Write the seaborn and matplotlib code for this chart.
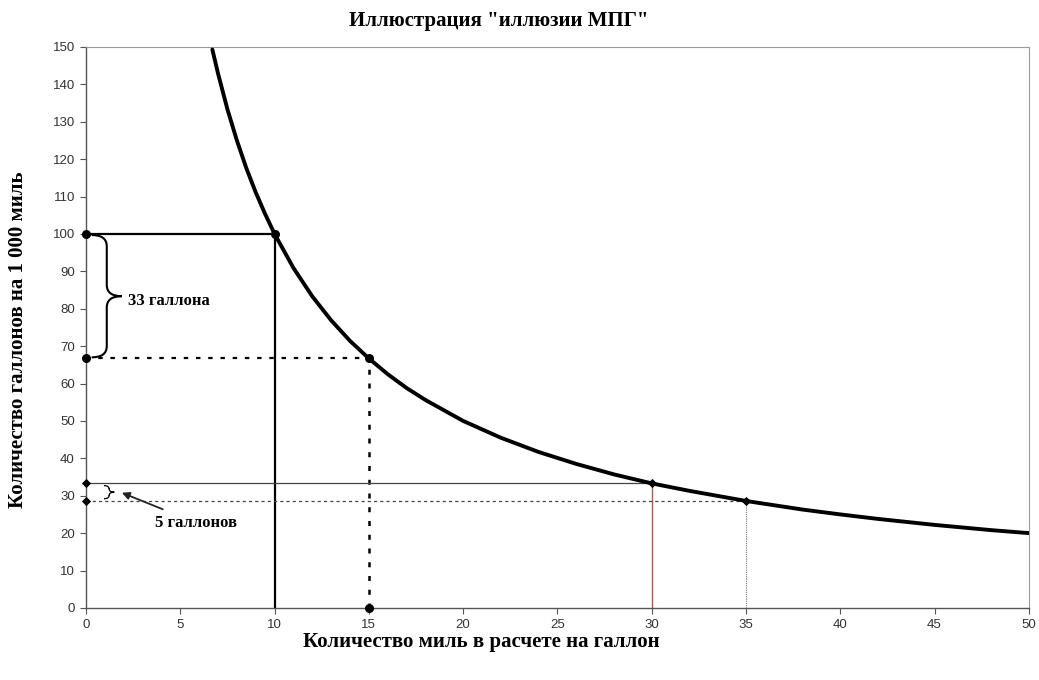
import numpy as np
import matplotlib
matplotlib.use('Agg')
import matplotlib.pyplot as plt
from matplotlib.path import Path
from matplotlib.patches import PathPatch
import seaborn as sns
import pandas as pd

# curve values: gallons per 1000 miles vs miles per gallon
mpg = [6.7, 7, 7.5, 8, 8.5, 9, 9.5, 10, 11, 12, 13, 14, 15, 16, 17, 18, 20, 22,
       24, 26, 28, 30, 32, 35, 38, 40, 42, 45, 48, 50]
gallons = [149.3, 142.9, 133.3, 125.0, 117.6, 111.1, 105.3, 100.0, 90.9, 83.3, 76.9,
           71.4, 66.7, 62.5, 58.8, 55.6, 50.0, 45.5, 41.7, 38.5, 35.7, 33.3, 31.3,
           28.6, 26.3, 25.0, 23.8, 22.2, 20.8, 20.0]

# highlighted pairs (mpg, gallons)
pts_mpg = [10, 15, 30, 35]
pts_gal = [100, 66.7, 33.3, 28.6]

title = 'Иллюстрация "иллюзии МПГ"'
xlabel = 'Количество миль в расчете на галлон'
ylabel = 'Количество галлонов на 1 000 миль'
note_big = '33 галлона'
note_small = '5 галлонов'

sns.set_style('white')
plt.rcParams['font.family'] = ['Liberation Sans', 'DejaVu Sans']
plt.rcParams['text.color'] = 'black'
serif = ['Liberation Serif', 'DejaVu Serif']

fig = plt.figure(figsize=(10.39, 6.8), dpi=100)
ax = fig.add_axes([0.0828, 0.106, 0.9074, 0.825])

df = pd.DataFrame({'mpg': mpg, 'gallons': gallons})
sns.lineplot(data=df, x='mpg', y='gallons', ax=ax, color='black', linewidth=2.8, zorder=5)
ax.set_xlabel('')
ax.set_ylabel('')

# 10 mpg: solid guides
ax.plot([0, pts_mpg[0]], [pts_gal[0], pts_gal[0]], color='black', lw=1.6)
ax.plot([pts_mpg[0], pts_mpg[0]], [0, pts_gal[0]], color='black', lw=1.6)
# 15 mpg: heavy dotted guides
ax.plot([0, pts_mpg[1]], [pts_gal[1], pts_gal[1]], color='black', lw=1.6, ls=(0, (2, 3.5)))
ax.plot([pts_mpg[1], pts_mpg[1]], [0, pts_gal[1]], color='black', lw=1.8, ls=(0, (2, 3.5)))
# 30 mpg: thin solid + red vertical
ax.plot([0, pts_mpg[2]], [pts_gal[2], pts_gal[2]], color='#444444', lw=0.9)
ax.plot([pts_mpg[2], pts_mpg[2]], [0, pts_gal[2]], color='#c0504d', lw=1.0)
# 35 mpg: thin dotted
ax.plot([0, pts_mpg[3]], [pts_gal[3], pts_gal[3]], color='#444444', lw=0.9, ls=(0, (2.5, 2.5)))
ax.plot([pts_mpg[3], pts_mpg[3]], [0, pts_gal[3]], color='#777777', lw=0.8, ls=(0, (1, 1)))

# markers
ax.scatter([0, pts_mpg[0], 0, pts_mpg[1], pts_mpg[1]],
           [pts_gal[0], pts_gal[0], pts_gal[1], pts_gal[1], 0],
           color='black', s=30, zorder=6, clip_on=False)
ax.scatter([0, 0, pts_mpg[2], pts_mpg[3]],
           [pts_gal[2], pts_gal[3], pts_gal[2], pts_gal[3]],
           color='black', s=22, marker='D', zorder=6, clip_on=False, linewidths=0)


def brace(ax, x0, y_lo, y_hi, w, q, lw):
    # right-facing curly brace "}" from y_hi down to y_lo, tip at x0 + w
    mid = (y_lo + y_hi) / 2
    xm = x0 + w / 2
    verts = [(x0, y_hi), (xm, y_hi), (xm, y_hi - q),
             (xm, mid + q),
             (xm, mid), (x0 + w, mid),
             (xm, mid), (xm, mid - q),
             (xm, y_lo + q),
             (xm, y_lo), (x0, y_lo)]
    codes = [Path.MOVETO, Path.CURVE3, Path.CURVE3,
             Path.LINETO,
             Path.CURVE3, Path.CURVE3,
             Path.CURVE3, Path.CURVE3,
             Path.LINETO,
             Path.CURVE3, Path.CURVE3]
    ax.add_patch(PathPatch(Path(verts, codes), fill=False, lw=lw, color='black'))


brace(ax, 0.3, pts_gal[1] + 0.3, pts_gal[0] - 0.3, 1.6, 3.0, 1.5)
brace(ax, 0.95, pts_gal[3] + 0.6, pts_gal[2] - 0.6, 0.55, 0.9, 0.9)

ax.text(2.2, 82.0, note_big, fontsize=12, fontweight='bold', family=serif,
        va='center', ha='left', color='black')
ax.annotate(note_small, xy=(1.9, 30.8), xytext=(3.65, 22.8), fontsize=12,
            fontweight='bold', family=serif, va='center', ha='left', color='black',
            arrowprops=dict(arrowstyle='-|>', color='#222222', lw=1.3,
                            mutation_scale=11, shrinkA=4, shrinkB=0))

ax.set_xlim(0, 50)
ax.set_ylim(0, 150)
ax.set_xticks(np.arange(0, 51, 5))
ax.set_yticks(np.arange(0, 151, 10))
ax.tick_params(axis='both', which='both', direction='out', length=4, width=0.8,
               color='#555555', labelsize=9.5, labelcolor='#333333',
               bottom=True, left=True, pad=4)
for side in ['left', 'bottom']:
    ax.spines[side].set_color('#555555')
    ax.spines[side].set_linewidth(1.0)
for side in ['top', 'right']:
    ax.spines[side].set_color('#999999')
    ax.spines[side].set_linewidth(0.8)

fig.text(481 / 1039, 1 - 642 / 680, xlabel, family=serif, fontweight='bold',
         fontsize=15, ha='center', va='center', color='black')
fig.text(18 / 1039, 1 - 340 / 680, ylabel, family=serif, fontweight='bold',
         fontsize=15, ha='center', va='center', rotation=90, color='black')
fig.text(499 / 1039, 1 - 21 / 680, title, family=serif, fontweight='bold',
         fontsize=15, ha='center', va='center', color='black')

fig.savefig('out.png', dpi=100)
